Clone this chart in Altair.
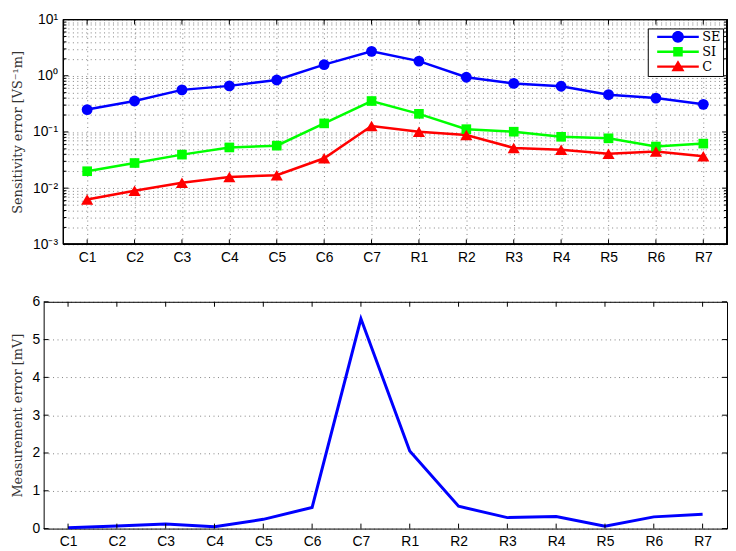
import altair as alt
import pandas as pd

cats = ["C1", "C2", "C3", "C4", "C5", "C6", "C7", "R1", "R2", "R3", "R4", "R5", "R6", "R7"]
se = [0.25, 0.355, 0.56, 0.66, 0.84, 1.58, 2.72, 1.82, 0.94, 0.73, 0.65, 0.46, 0.40, 0.31]
si = [0.020, 0.028, 0.0395, 0.053, 0.057, 0.142, 0.355, 0.21, 0.112, 0.101, 0.082, 0.077, 0.055, 0.062]
cc = [0.0063, 0.0090, 0.0125, 0.0158, 0.017, 0.034, 0.128, 0.101, 0.088, 0.052, 0.048, 0.041, 0.045, 0.037]
meas = [0.02, 0.07, 0.12, 0.05, 0.245, 0.56, 5.55, 2.05, 0.59, 0.29, 0.32, 0.06, 0.31, 0.38]

series_names = ["SE", "SI", "C"]
series_colors = ["#0000ff", "#00ff00", "#ff0000"]
series_shapes = ["circle", "square", "triangle-up"]
series_sizes = [120, 95, 150]
legend_paths = [
    "M-3.5,-0.2 H3.5 V0.2 H-3.5 Z M1,0 A1,1 0 1,1 -1,0 A1,1 0 1,1 1,0 Z",
    "M-3.5,-0.2 H3.5 V0.2 H-3.5 Z M-0.8,-0.8 H0.8 V0.8 H-0.8 Z",
    "M-3.5,-0.2 H3.5 V0.2 H-3.5 Z M0,-1.05 L1.1,0.8 L-1.1,0.8 Z",
]

decades = [0.001, 0.01, 0.1, 1, 10]
minors = [m * 10 ** e for e in range(-3, 1) for m in range(2, 10)]
all_log = sorted(decades + minors)
lin_ticks = [0, 1, 2, 3, 4, 5, 6]

rows = []
for name, vals in zip(series_names, [se, si, cc]):
    for c, v in zip(cats, vals):
        rows.append({"cat": c, "value": v, "series": name})
top_df = pd.DataFrame(rows)
bot_df = pd.DataFrame({"cat": cats, "value": meas})
cat_df = pd.DataFrame({"cat": cats})
dec_df = pd.DataFrame({"value": decades})
min_df = pd.DataFrame({"value": minors})
lin_df = pd.DataFrame({"value": lin_ticks})

# both panels share the same group origin; the top plot box starts OFF1 px further right
W, OFF1 = 690, 20
H1, H2 = 227, 229

LABEL_FONT = "Liberation Sans"
TITLE_FONT = "DejaVu Serif"
GRID = dict(grid=True, gridColor="#000000", gridOpacity=0.5, gridWidth=1, gridDash=[1, 3.5])

label_expr = ("datum.value == 10 ? '10\u00b9' : datum.value == 1 ? '10\u2070' : "
              "datum.value == 0.1 ? '10\u207b\u00b9' : datum.value == 0.01 ? '10\u207b\u00b2' : "
              "datum.value == 0.001 ? '10\u207b\u00b3' : ''")

X1 = alt.X("cat:N", sort=cats, scale=alt.Scale(type="point", domain=cats, padding=0.5, range=[OFF1, W]),
           axis=alt.Axis(title=None, ticks=False, domain=False, labelFont=LABEL_FONT, labelFontSize=14,
                         labelColor="#000", labelPadding=6, labelAngle=0, **GRID))
Y1 = alt.Y("value:Q", scale=alt.Scale(type="log", domain=[0.001, 10], nice=False),
           axis=alt.Axis(title="Sensitivity error [VS\u207b\u00b9m]", values=all_log, labelExpr=label_expr,
                         ticks=False, domain=False, labelFont=LABEL_FONT, labelFontSize=14, labelColor="#000",
                         labelPadding=6, minExtent=32, maxExtent=32, titlePadding=7, offset=-OFF1,
                         titleFont=TITLE_FONT, titleFontSize=13, titleFontWeight="normal", titleColor="#333",
                         labelOverlap=False, **GRID))
X2 = alt.X("cat:N", sort=cats, scale=alt.Scale(type="point", domain=cats, padding=0.5),
           axis=alt.Axis(title=None, ticks=False, domain=False, labelFont=LABEL_FONT, labelFontSize=14,
                         labelColor="#000", labelPadding=6, labelAngle=0, grid=False))
Y2 = alt.Y("value:Q", scale=alt.Scale(type="linear", domain=[0, 6], nice=False),
           axis=alt.Axis(title="Measurement error [mV]", values=lin_ticks, ticks=False, domain=False,
                         labelFont=LABEL_FONT, labelFontSize=14, labelColor="#000", labelPadding=4,
                         minExtent=12, maxExtent=12, titlePadding=7.5,
                         titleFont=TITLE_FONT, titleFontSize=13, titleFontWeight="normal", titleColor="#333",
                         **GRID))

base1 = alt.Chart(top_df)
layers1 = []
for name, col in zip(series_names, series_colors):
    layers1.append(base1.transform_filter(alt.datum.series == name)
                   .mark_line(strokeWidth=2.5, color=col).encode(x=X1, y=Y1))
for name, col, shp, sz in zip(series_names, series_colors, series_shapes, series_sizes):
    layers1.append(base1.transform_filter(alt.datum.series == name)
                   .mark_point(filled=True, shape=shp, size=sz, color=col, opacity=1)
                   .encode(x=X1, y=Y1))

legend_kw = dict(orient="none", legendX=610, legendY=9, title=None, padding=2,
                 strokeColor="#000", fillColor="#fff", labelFont=TITLE_FONT, labelFontSize=13,
                 labelColor="#000", symbolSize=144, symbolStrokeWidth=0, symbolOffset=22,
                 labelOffset=18, rowPadding=1, symbolOpacity=1,
                 labelExpr="datum.label + '\u00a0\u00a0\u00a0'")
legend_layer = base1.transform_filter("datum.series == 'none'").mark_point(filled=True).encode(
    x=X1, y=Y1,
    color=alt.Color("series:N", scale=alt.Scale(domain=series_names, range=series_colors),
                    legend=alt.Legend(**legend_kw)),
    shape=alt.Shape("series:N", scale=alt.Scale(domain=series_names, range=legend_paths),
                    legend=alt.Legend(**legend_kw)),
)
layers1.append(legend_layer)


def xticks(X, H):
    b = alt.Chart(cat_df).mark_rule(color="#000", strokeWidth=1)
    return [b.encode(x=X, y=alt.value(H), y2=alt.value(H - 5)),
            b.encode(x=X, y=alt.value(0), y2=alt.value(5))]


def yticks(df, Y, x0, x1, L):
    b = alt.Chart(df).mark_rule(color="#000", strokeWidth=1)
    return [b.encode(y=Y, x=alt.value(x0), x2=alt.value(x0 + L)),
            b.encode(y=Y, x=alt.value(x1), x2=alt.value(x1 - L))]


frame1 = alt.Chart(cat_df).mark_rect(fill=None, stroke="#000", strokeWidth=1).encode(
    x=alt.value(OFF1), x2=alt.value(W), y=alt.value(0), y2=alt.value(H1))

top = alt.layer(
    *layers1, *xticks(X1, H1), *yticks(dec_df, Y1, OFF1, W, 5), *yticks(min_df, Y1, OFF1, W, 3), frame1,
).properties(width=W, height=H1, view=alt.ViewBackground(stroke=None))

line2 = alt.Chart(bot_df).mark_line(strokeWidth=3, color="#0000ff").encode(x=X2, y=Y2)
bottom = alt.layer(
    line2, *xticks(X2, H2), *yticks(lin_df, Y2, 0, W, 5),
).properties(width=W, height=H2, view=alt.ViewBackground(stroke="#000", strokeWidth=1))

chart = alt.vconcat(top, bottom, spacing=30).properties(
    padding={"left": 3, "top": 2, "right": 0, "bottom": 0}, background="white"
)

chart.save("out.html", embed_options={"renderer": "svg", "actions": False})
